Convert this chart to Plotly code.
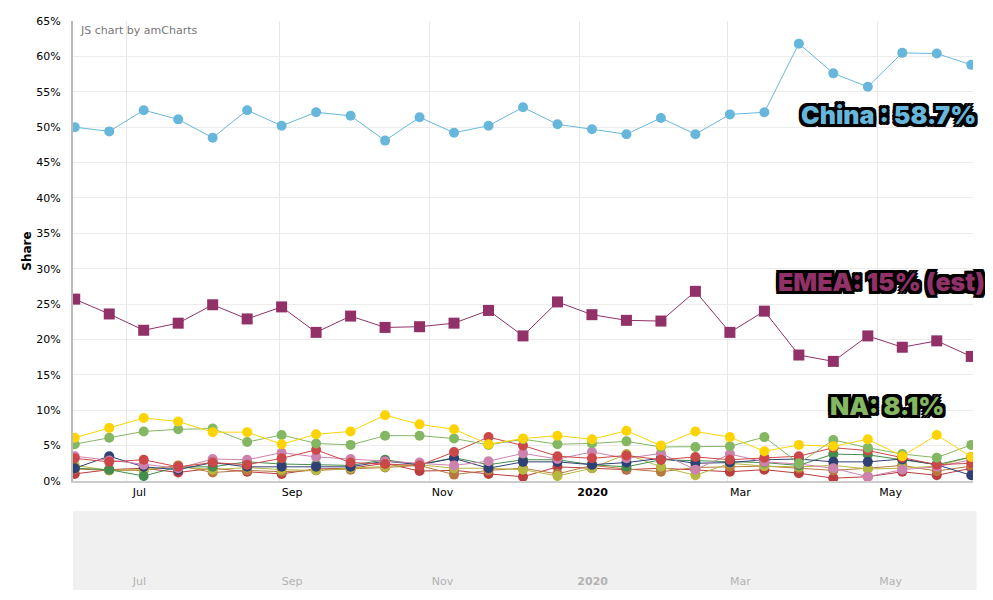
import pandas as pd
import plotly.graph_objects as go

# ---- data ----
dates = pd.date_range("2019-06-10", periods=27, freq="14D")

china = [50.0, 49.4, 52.4, 51.1, 48.5, 52.4, 50.2, 52.1, 51.6, 48.1, 51.4, 49.2, 50.2, 52.8,
         50.4, 49.7, 49.0, 51.3, 49.0, 51.8, 52.1, 61.8, 57.6, 55.7, 60.5, 60.4, 58.8]
emea = [25.7, 23.6, 21.3, 22.3, 24.9, 22.9, 24.6, 21.0, 23.3, 21.7, 21.8, 22.3, 24.1, 20.5,
        25.3, 23.5, 22.7, 22.6, 26.8, 21.0, 24.0, 17.8, 16.9, 20.5, 18.9, 19.8, 17.6]
yellow = [6.1, 7.5, 8.9, 8.4, 6.9, 6.9, 5.2, 6.6, 7.0, 9.3, 8.0, 7.3, 5.2, 6.0,
          6.4, 5.9, 7.1, 5.0, 7.0, 6.2, 4.2, 5.1, 4.9, 5.9, 3.5, 6.5, 3.4]
na = [5.2, 6.1, 7.0, 7.3, 7.4, 5.5, 6.5, 5.3, 5.1, 6.4, 6.4, 6.0, 5.1, 5.9,
      5.2, 5.3, 5.6, 4.8, 4.8, 4.9, 6.2, 2.5, 5.8, 4.7, 3.8, 3.3, 5.1]
red = [3.2, 2.7, 3.0, 2.0, 2.6, 2.3, 3.2, 4.4, 2.6, 2.4, 2.2, 4.1, 6.2, 5.0,
       3.5, 3.2, 3.6, 3.0, 3.4, 3.0, 3.3, 3.5, 4.7, 4.3, 3.3, 2.3, 2.5]
pink = [3.5, 2.9, 2.3, 1.8, 3.1, 3.0, 4.0, 3.4, 3.1, 2.8, 2.6, 2.2, 2.8, 3.9,
        3.1, 4.1, 3.2, 3.9, 1.6, 3.8, 2.7, 2.4, 1.8, 0.6, 1.6, 2.0, 3.0]
navy = [1.8, 3.5, 2.0, 1.6, 2.6, 2.0, 2.0, 2.0, 2.0, 2.8, 2.3, 3.2, 1.8, 2.7,
        2.7, 2.3, 2.6, 3.2, 2.5, 2.6, 3.0, 3.1, 2.7, 2.7, 3.1, 2.3, 0.8]
dkgreen = [1.8, 1.6, 0.7, 2.0, 2.0, 2.7, 2.4, 2.3, 2.2, 3.0, 2.3, 3.3, 2.3, 3.0,
           3.0, 2.3, 2.0, 3.0, 2.9, 2.7, 2.6, 2.2, 3.8, 3.7, 3.0, 2.3, 3.4]
olive = [2.2, 1.5, 1.6, 2.0, 1.6, 1.9, 1.6, 1.5, 1.8, 2.0, 2.3, 1.8, 1.8, 1.6,
         0.7, 1.8, 3.8, 2.0, 0.8, 2.5, 2.1, 2.0, 2.2, 1.7, 1.8, 2.1, 3.4]
orange = [1.7, 1.5, 1.5, 2.2, 1.2, 1.5, 1.3, 1.5, 1.6, 1.9, 2.2, 0.9, 1.5, 1.8,
          1.0, 2.2, 1.7, 1.3, 1.9, 2.0, 2.1, 1.8, 1.5, 1.8, 2.2, 1.4, 2.1]
dkred = [1.0, 1.6, 1.8, 1.2, 1.8, 1.3, 1.0, 1.7, 1.8, 2.5, 1.4, 1.5, 1.0, 0.6,
         2.0, 1.8, 1.6, 1.8, 1.6, 1.3, 1.6, 1.1, 0.4, 0.6, 1.3, 0.8, 1.8]

tick_dates = ["2019-07-01", "2019-09-01", "2019-11-01", "2020-01-01", "2020-03-01", "2020-05-01"]
tick_text = ["Jul", "Sep", "Nov", "<b>2020</b>", "Mar", "May"]
y_ticks = list(range(0, 70, 5))
y_text = [f"{v}%" for v in y_ticks]

series = [
    ("Region J", dkred, "#b93e3d", "circle"),
    ("Region I", orange, "#b9783f", "circle"),
    ("Region H", olive, "#b7b83f", "circle"),
    ("Region G", dkgreen, "#448e4d", "circle"),
    ("Region F", navy, "#2f4074", "circle"),
    ("Region E", pink, "#cd82ad", "circle"),
    ("Region D", red, "#cc4748", "circle"),
    ("NA", na, "#84b761", "circle"),
    ("Region B", yellow, "#fdd400", "circle"),
    ("EMEA", emea, "#913167", "square"),
    ("China", china, "#67b7dc", "circle"),
]

FONT = "Verdana, DejaVu Sans, sans-serif"
fig = go.Figure()
for name, vals, col, sym in series:
    fig.add_trace(go.Scatter(
        x=dates, y=vals, name=name, mode="lines+markers",
        line=dict(color=col, width=1),
        marker=dict(color=col, size=10 if sym == "circle" else 11, symbol=sym, line=dict(width=0)),
        xaxis="x", yaxis="y", showlegend=False,
    ))

# empty scrollbar subplot
fig.add_trace(go.Scatter(x=[dates[0]], y=[0], mode="markers", marker=dict(opacity=0),
                         xaxis="x2", yaxis="y2", showlegend=False, hoverinfo="skip"))

x_range = [dates[0] - pd.Timedelta(hours=17), dates[-1] + pd.Timedelta(hours=17)]

# page body has an 8px margin, so the figure is sized/offset to compensate
fig.update_layout(
    width=977, height=584,
    margin=dict(l=65, r=12, t=13, b=2),
    paper_bgcolor="white", plot_bgcolor="white",
    font=dict(family=FONT, size=11, color="#000"),
    xaxis=dict(
        domain=[0, 1], anchor="y", type="date", range=x_range, automargin=False,
        tickmode="array", tickvals=tick_dates, ticktext=tick_text, ticklabelshift=13,
        showgrid=True, gridcolor="#e8e8e8", gridwidth=1,
        showline=True, linecolor="#cccccc", linewidth=2,
        ticks="", tickfont=dict(size=11, color="#000"), zeroline=False,
    ),
    yaxis=dict(
        domain=[0.1916, 1], anchor="x", range=[0, 65], automargin=False,
        tickmode="array", tickvals=y_ticks, ticktext=y_text, ticklabelstandoff=8,
        showgrid=True, gridcolor="#ececec", gridwidth=1,
        showline=True, linecolor="#bbbbbb", linewidth=2,
        ticks="", tickfont=dict(size=11, color="#000"), zeroline=False,
        title=dict(text="<b>Share</b>", font=dict(size=12, color="#000"), standoff=2),
    ),
    xaxis2=dict(
        domain=[0, 1], anchor="y2", type="date", range=x_range, matches="x", automargin=False,
        tickmode="array", tickvals=tick_dates, ticktext=tick_text, ticklabelshift=13,
        ticklabelposition="inside", showgrid=False, showline=False, ticks="",
        tickfont=dict(size=11, color="#b3b3b3"), zeroline=False,
    ),
    yaxis2=dict(domain=[0, 0.1388], anchor="x2", range=[0, 1], visible=False),
    shapes=[dict(type="rect", xref="paper", yref="paper", x0=0, x1=1.004, y0=0, y1=0.1388,
                 fillcolor="#f0f0f0", line=dict(width=0), layer="below")],
)

outline = ("3px 3px 0 #000, -3px -3px 0 #000, 3px -3px 0 #000, -3px 3px 0 #000, "
           "0 3px 0 #000, 0 -3px 0 #000, 3px 0 0 #000, -3px 0 0 #000")
big = dict(family="Inter, Lato, sans-serif", size=25, weight=900, shadow=outline)

fig.add_annotation(text="JS chart by amCharts", xref="paper", yref="paper", x=0.005, y=0.983,
                   xanchor="left", yanchor="middle", showarrow=False,
                   font=dict(family=FONT, size=11, color="#777"))
fig.add_annotation(text="China : 58.7%", xref="paper", yref="paper", x=1.0056, y=0.8348,
                   xanchor="right", yanchor="middle", showarrow=False,
                   font=dict(big, color="#67b7dc"))
fig.add_annotation(text="EMEA: 15% (est)", xref="paper", yref="paper", x=1.0156, y=0.5413,
                   xanchor="right", yanchor="middle", showarrow=False,
                   font=dict(big, color="#913167"))
fig.add_annotation(text="NA: 8.1%", xref="paper", yref="paper", x=0.97, y=0.3234,
                   xanchor="right", yanchor="middle", showarrow=False,
                   font=dict(big, color="#84b761"))

fig.write_html("out.html")
